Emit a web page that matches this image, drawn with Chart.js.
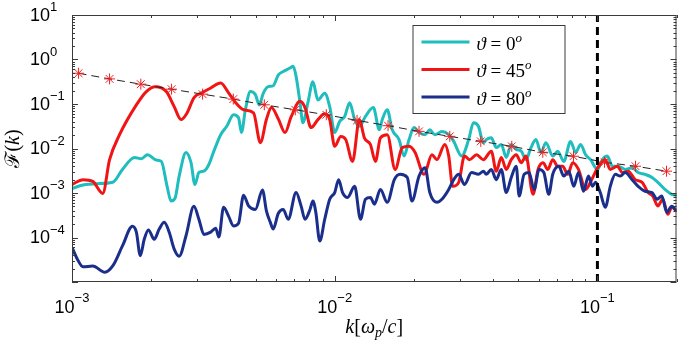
<!DOCTYPE html>
<html>
<head>
<meta charset="utf-8">
<title>F(k)</title>
<script src="https://cdn.jsdelivr.net/npm/chart.js@4.4.1/dist/chart.umd.min.js"></script>
<style>
    html, body { margin: 0; padding: 0; background: #fff; }
    #wrap { width: 683px; height: 342px; position: relative; }
</style>
</head>
<body>
<div id="wrap"><canvas id="spectrum"></canvas></div>
<script>
// spectra as [log10 k, log10 F(k)] pairs
var spec0 = [[-3.000,-2.90],[-2.958,-2.82],[-2.906,-2.79],[-2.845,-2.76],[-2.808,-2.47],[-2.762,-2.20],[-2.736,-2.23],[-2.713,-2.14],[-2.679,-2.26],[-2.660,-2.29],[-2.638,-2.85],[-2.623,-3.18],[-2.608,-3.12],[-2.592,-2.62],[-2.566,-2.09],[-2.547,-2.32],[-2.532,-2.81],[-2.517,-2.54],[-2.498,-2.51],[-2.479,-2.36],[-2.460,-2.06],[-2.434,-1.69],[-2.411,-1.50],[-2.385,-1.24],[-2.366,-1.31],[-2.355,-1.64],[-2.340,-1.13],[-2.321,-0.72],[-2.302,-0.79],[-2.287,-1.02],[-2.272,-0.76],[-2.253,-0.61],[-2.234,-0.59],[-2.215,-0.35],[-2.196,-0.27],[-2.170,-0.19],[-2.158,-0.15],[-2.147,-0.38],[-2.132,-0.97],[-2.121,-1.42],[-2.102,-0.97],[-2.083,-0.50],[-2.064,-0.91],[-2.038,-0.76],[-2.019,-1.06],[-2.000,-1.64],[-1.981,-1.39],[-1.962,-1.28],[-1.943,-0.97],[-1.924,-1.35],[-1.906,-1.50],[-1.883,-1.28],[-1.853,-1.08],[-1.830,-1.58],[-1.819,-1.35],[-1.800,-1.13],[-1.781,-1.58],[-1.755,-1.80],[-1.736,-2.17],[-1.717,-1.80],[-1.698,-1.53],[-1.679,-1.64],[-1.656,-1.69],[-1.638,-1.58],[-1.619,-1.69],[-1.592,-1.62],[-1.566,-1.69],[-1.547,-1.84],[-1.517,-2.17],[-1.490,-1.80],[-1.472,-1.42],[-1.453,-1.50],[-1.434,-1.87],[-1.423,-1.80],[-1.404,-1.76],[-1.385,-1.98],[-1.366,-1.91],[-1.347,-2.20],[-1.328,-1.91],[-1.309,-2.02],[-1.290,-2.06],[-1.272,-2.25],[-1.253,-1.98],[-1.234,-1.80],[-1.215,-2.09],[-1.196,-1.87],[-1.170,-2.17],[-1.151,-2.06],[-1.128,-2.29],[-1.102,-1.84],[-1.083,-2.09],[-1.064,-1.91],[-1.045,-2.14],[-1.026,-2.25],[-1.000,-2.47],[-0.981,-2.25],[-0.962,-2.17],[-0.943,-2.40],[-0.921,-2.40],[-0.894,-2.47],[-0.868,-2.43],[-0.845,-2.54],[-0.819,-2.58],[-0.792,-2.65],[-0.770,-2.76],[-0.743,-2.92],[-0.717,-3.03],[-0.698,-3.05]];

var spec45 = [[-3.000,-2.81],[-2.958,-2.70],[-2.921,-2.74],[-2.883,-3.01],[-2.857,-2.25],[-2.819,-1.69],[-2.755,-1.02],[-2.717,-0.72],[-2.683,-0.61],[-2.641,-0.72],[-2.611,-1.06],[-2.585,-1.35],[-2.562,-1.20],[-2.536,-0.86],[-2.506,-0.75],[-2.472,-0.64],[-2.434,-0.53],[-2.404,-0.75],[-2.377,-0.97],[-2.347,-1.13],[-2.309,-1.20],[-2.283,-1.87],[-2.260,-1.35],[-2.241,-1.08],[-2.215,-1.33],[-2.189,-1.64],[-2.166,-1.29],[-2.132,-0.94],[-2.113,-1.08],[-2.090,-1.53],[-2.064,-1.35],[-2.038,-1.22],[-2.019,-1.35],[-2.000,-1.95],[-1.977,-1.73],[-1.958,-1.80],[-1.932,-2.29],[-1.906,-1.35],[-1.887,-1.76],[-1.864,-1.91],[-1.845,-2.29],[-1.826,-1.76],[-1.800,-1.69],[-1.770,-2.47],[-1.743,-1.98],[-1.717,-1.95],[-1.694,-2.09],[-1.660,-2.58],[-1.630,-2.14],[-1.611,-2.25],[-1.581,-1.91],[-1.566,-2.17],[-1.551,-2.85],[-1.528,-2.76],[-1.506,-2.17],[-1.487,-2.25],[-1.460,-2.14],[-1.434,-2.25],[-1.404,-2.06],[-1.385,-2.51],[-1.366,-2.20],[-1.347,-2.47],[-1.328,-2.25],[-1.309,-2.14],[-1.290,-2.32],[-1.272,-2.17],[-1.245,-3.03],[-1.226,-2.47],[-1.207,-2.32],[-1.189,-2.47],[-1.170,-2.25],[-1.151,-2.40],[-1.132,-2.40],[-1.113,-2.58],[-1.094,-2.32],[-1.072,-2.47],[-1.045,-2.92],[-1.022,-2.70],[-0.996,-2.40],[-0.970,-2.25],[-0.951,-2.47],[-0.924,-2.40],[-0.905,-2.54],[-0.883,-2.51],[-0.856,-2.70],[-0.830,-2.76],[-0.807,-2.99],[-0.789,-3.07],[-0.770,-3.29],[-0.751,-3.14],[-0.732,-3.48],[-0.717,-3.32],[-0.698,-3.41]];

var spec80 = [[-3.000,-4.22],[-2.981,-4.47],[-2.958,-4.66],[-2.921,-4.64],[-2.875,-4.78],[-2.845,-4.64],[-2.808,-4.19],[-2.770,-3.75],[-2.755,-3.88],[-2.740,-4.41],[-2.725,-4.04],[-2.709,-3.83],[-2.687,-4.04],[-2.668,-3.81],[-2.649,-3.66],[-2.630,-3.88],[-2.611,-4.26],[-2.592,-4.42],[-2.566,-3.96],[-2.536,-3.30],[-2.517,-3.59],[-2.498,-3.93],[-2.472,-3.88],[-2.453,-3.79],[-2.441,-3.99],[-2.423,-3.32],[-2.404,-3.52],[-2.385,-3.74],[-2.366,-3.68],[-2.347,-3.05],[-2.328,-3.29],[-2.302,-3.37],[-2.275,-2.93],[-2.260,-3.40],[-2.245,-3.66],[-2.234,-3.81],[-2.215,-3.46],[-2.196,-3.37],[-2.177,-3.59],[-2.147,-2.99],[-2.128,-3.29],[-2.113,-3.59],[-2.094,-3.37],[-2.083,-3.18],[-2.072,-3.43],[-2.057,-4.08],[-2.038,-3.59],[-2.019,-3.14],[-2.000,-2.99],[-1.985,-2.70],[-1.970,-2.99],[-1.951,-3.10],[-1.924,-2.85],[-1.902,-3.59],[-1.883,-3.14],[-1.864,-3.10],[-1.849,-3.25],[-1.826,-2.92],[-1.800,-3.21],[-1.773,-2.70],[-1.751,-2.58],[-1.724,-2.65],[-1.706,-3.18],[-1.679,-2.62],[-1.656,-2.43],[-1.638,-2.99],[-1.611,-3.21],[-1.592,-3.14],[-1.566,-2.92],[-1.547,-2.70],[-1.528,-2.58],[-1.506,-2.81],[-1.479,-2.54],[-1.453,-2.58],[-1.434,-2.51],[-1.423,-2.58],[-1.404,-2.47],[-1.385,-2.70],[-1.366,-2.47],[-1.347,-2.99],[-1.328,-2.65],[-1.309,-2.40],[-1.298,-3.07],[-1.279,-2.58],[-1.260,-2.54],[-1.241,-2.92],[-1.222,-2.47],[-1.204,-2.54],[-1.185,-3.03],[-1.170,-2.58],[-1.147,-2.40],[-1.128,-2.62],[-1.109,-2.51],[-1.090,-2.85],[-1.072,-2.54],[-1.053,-2.96],[-1.034,-2.62],[-1.019,-2.85],[-1.007,-2.76],[-0.989,-2.99],[-0.970,-3.32],[-0.951,-2.85],[-0.932,-2.58],[-0.913,-2.62],[-0.894,-2.54],[-0.868,-2.70],[-0.845,-2.85],[-0.819,-2.96],[-0.792,-2.99],[-0.773,-3.14],[-0.755,-3.07],[-0.736,-3.43],[-0.717,-3.30],[-0.698,-3.41]];

// power-law guide with asterisk markers
var guide = [[-2.975,-0.309],[-2.857,-0.436],[-2.738,-0.555],[-2.621,-0.667],[-2.503,-0.779],[-2.386,-0.890],[-2.268,-1.018],[-2.150,-1.130],[-2.032,-1.242],[-1.915,-1.369],[-1.797,-1.488],[-1.679,-1.615],[-1.562,-1.727],[-1.444,-1.839],[-1.326,-1.951],[-1.208,-2.085],[-1.091,-2.174],[-0.973,-2.309],[-0.855,-2.398],[-0.737,-2.510]];

var kCut = 0.1;
var kRange = [1e-3, 0.2];
var fRange = [1e-5, 10];
var xLabelExp = [-3, -2, -1];
var yLabelExp = [-4, -3, -2, -1, 0, 1];
var angles = [0, 45, 80];

(function () {

    var colors = ['#1fbdbd', '#f01414', '#1a2f8c'];
    var sans = '"Liberation Sans", Arial, sans-serif';
    var serif = '"Liberation Serif", "DejaVu Serif", serif';

    function toPoints(pairs) {
        return pairs.map(function (p) {
            return { x: Math.pow(10, p[0]), y: Math.pow(10, p[1]) };
        });
    }

    // positions of major (1eN) and minor (m*1eN) ticks on a log axis
    function logSteps(lo, hi) {
        var major = [], minor = [];
        for (var e = Math.floor(Math.log10(lo)); e <= Math.ceil(Math.log10(hi)); e++) {
            for (var m = 1; m < 10; m++) {
                var v = m * Math.pow(10, e);
                if (v < lo * 0.999 || v > hi * 1.001) continue;
                (m === 1 ? major : minor).push(v);
            }
        }
        return { major: major, minor: minor };
    }

    // text made of pieces [string, font, rise]
    function piecesWidth(ctx, pieces) {
        var w = 0;
        pieces.forEach(function (p) {
            ctx.font = p[1];
            w += ctx.measureText(p[0]).width;
        });
        return w;
    }

    function drawPieces(ctx, pieces, x, y) {
        pieces.forEach(function (p) {
            ctx.font = p[1];
            ctx.fillText(p[0], x, y - (p[2] || 0));
            x += ctx.measureText(p[0]).width;
        });
        return x;
    }

    function expText(e) {
        return e < 0 ? '\u2212' + (-e) : String(e);
    }

    var axesPlugin = {
        id: 'matlabAxes',
        afterDraw: function (chart) {
            var ctx = chart.ctx;
            var a = chart.chartArea;
            var xs = chart.scales.x, ys = chart.scales.y;
            var i, p;

            ctx.save();
            ctx.strokeStyle = '#3a3a3a';
            ctx.lineWidth = 1;

            // inward ticks on all four sides
            var xt = logSteps(kRange[0], kRange[1]);
            var yt = logSteps(fRange[0], fRange[1]);
            ctx.beginPath();
            [[xt.major, 6], [xt.minor, 3]].forEach(function (set) {
                set[0].forEach(function (v) {
                    var px = Math.round(xs.getPixelForValue(v)) + 0.5;
                    ctx.moveTo(px, a.bottom); ctx.lineTo(px, a.bottom - set[1]);
                    ctx.moveTo(px, a.top); ctx.lineTo(px, a.top + set[1]);
                });
            });
            [[yt.major, 6], [yt.minor, 3]].forEach(function (set) {
                set[0].forEach(function (v) {
                    var py = Math.round(ys.getPixelForValue(v)) + 0.5;
                    ctx.moveTo(a.left, py); ctx.lineTo(a.left + set[1], py);
                    ctx.moveTo(a.right, py); ctx.lineTo(a.right - set[1], py);
                });
            });
            ctx.stroke();
            ctx.strokeRect(a.left + 0.5, a.top + 0.5, a.right - a.left - 1, a.bottom - a.top - 1);

            // tick labels 10^n
            ctx.fillStyle = '#000';
            ctx.textBaseline = 'alphabetic';
            ctx.textAlign = 'left';
            var base = '18px ' + sans, small = '13px ' + sans;
            yLabelExp.forEach(function (e) {
                var py = ys.getPixelForValue(Math.pow(10, e));
                ctx.font = base;
                var w = ctx.measureText('10').width;
                drawPieces(ctx, [['10', base], [expText(e), small, 9.5]], 50 - w, py + 5.5);
            });
            xLabelExp.forEach(function (e) {
                var px = xs.getPixelForValue(Math.pow(10, e));
                var pcs = [['10', base], [expText(e), small, 11]];
                var w = piecesWidth(ctx, pcs);
                drawPieces(ctx, pcs, px - w / 2, a.bottom + 31);
            });

            // axis titles
            var it = 'italic 20px ' + serif, up = '20px ' + serif;
            var xTitle = [['k', it], ['[', up], ['\u03c9', it], ['p', 'italic 14px ' + serif, -4], ['/', up], ['c', it], [']', up]];
            var wx = piecesWidth(ctx, xTitle);
            drawPieces(ctx, xTitle, (a.left + a.right) / 2 - wx / 2, a.bottom + 51);

            var yTitle = [['\u2131', '20px "DejaVu Serif", serif'], ['(', up], ['k', it], [')', up]];
            var wy = piecesWidth(ctx, yTitle);
            ctx.save();
            ctx.translate(19, (a.top + a.bottom) / 2);
            ctx.rotate(-Math.PI / 2);
            drawPieces(ctx, yTitle, -wy / 2, 0);
            ctx.restore();

            // legend box
            var bx = a.right - 264, by = a.top + 10, bw = 152, bh = 88;
            ctx.fillStyle = '#fff';
            ctx.fillRect(bx, by, bw, bh);
            ctx.strokeRect(bx + 0.5, by + 0.5, bw, bh);
            var lf = '19px ' + serif, lfi = 'italic 19px ' + serif;
            for (i = 0; i < angles.length; i++) {
                var ly = by + 17 + i * 27.5;
                ctx.strokeStyle = colors[i];
                ctx.lineWidth = 3;
                ctx.beginPath();
                ctx.moveTo(bx + 9, ly);
                ctx.lineTo(bx + 57, ly);
                ctx.stroke();
                ctx.fillStyle = '#000';
                p = [['\u03d1', lfi], [' = ', lf], [String(angles[i]), lf], ['o', 'italic 13px ' + serif, 8]];
                drawPieces(ctx, p, bx + 64, ly + 7.5);
            }
            ctx.restore();
        }
    };

    function specSet(pairs, i, order) {
        return {
            label: '\u03d1 = ' + angles[i],
            data: toPoints(pairs),
            borderColor: colors[i],
            borderWidth: 3,
            pointRadius: 0,
            cubicInterpolationMode: 'monotone',
            order: order
        };
    }

    var ctx = document.getElementById('spectrum').getContext('2d');
    var grafico = new Chart(ctx, {
        type: 'line',
        data: {
            datasets: [
                {
                    label: 'k = 0.1',
                    data: [{ x: kCut, y: fRange[0] }, { x: kCut, y: fRange[1] }],
                    borderColor: '#000',
                    borderWidth: 3,
                    borderDash: [8, 5],
                    pointRadius: 0,
                    order: 0
                },
                {
                    label: 'guide',
                    data: toPoints(guide),
                    borderColor: '#222',
                    borderWidth: 1,
                    borderDash: [8, 5],
                    pointStyle: 'star',
                    pointRadius: 5.5,
                    pointBorderColor: '#f02020',
                    pointBorderWidth: 1,
                    order: 1
                },
                specSet(spec80, 2, 2),
                specSet(spec45, 1, 3),
                specSet(spec0, 0, 4)
            ]
        },
        options: {
            responsive: true,
            maintainAspectRatio: false,
            animation: false,
            layout: { padding: { left: 72, right: 1, top: 15, bottom: 60 } },
            plugins: {
                legend: { display: false },
                tooltip: { enabled: false }
            },
            scales: {
                x: { type: 'logarithmic', min: kRange[0], max: kRange[1], display: false },
                y: { type: 'logarithmic', min: fRange[0], max: fRange[1], display: false }
            }
        },
        plugins: [axesPlugin]
    });

})();
</script>
</body>
</html>
